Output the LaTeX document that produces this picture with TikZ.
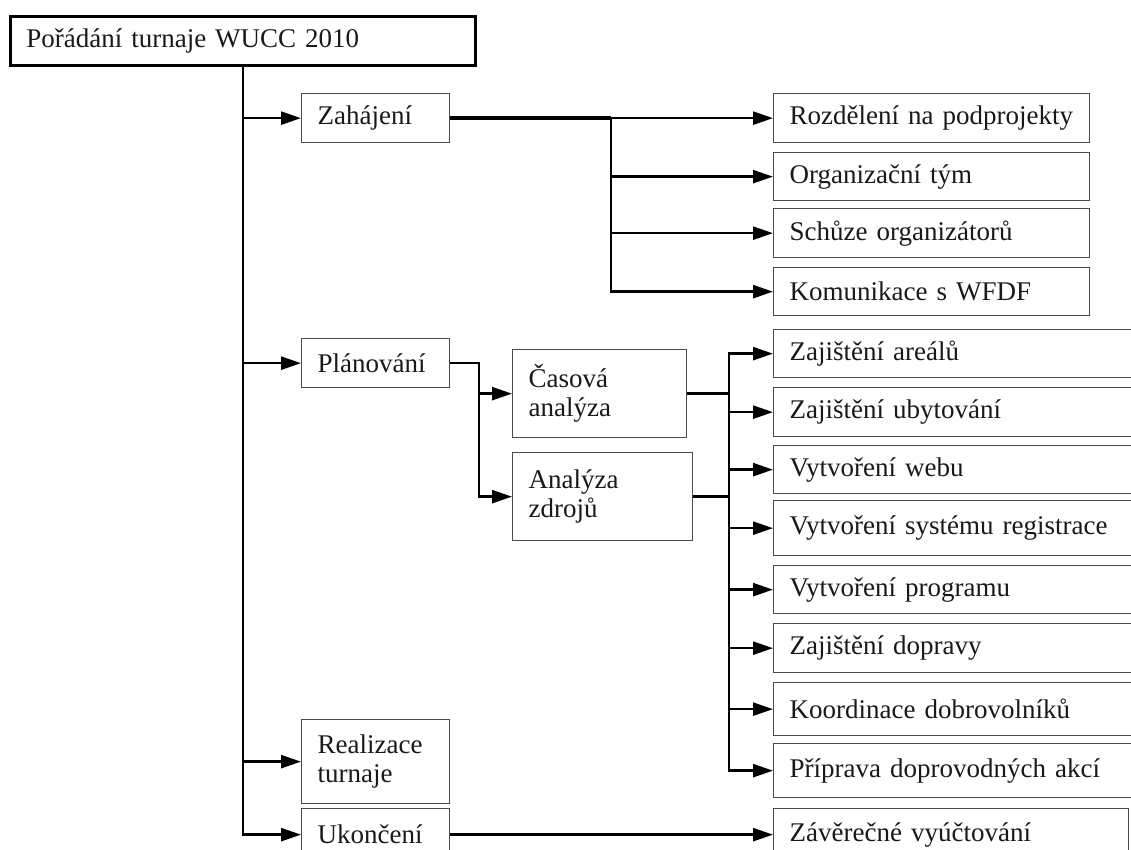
\documentclass[tikz,border=0pt]{standalone}
\usepackage{fontspec}
\setmainfont{Liberation Serif}
\usetikzlibrary{arrows.meta}
\newcommand{\boxfont}{\fontsize{27}{29}\selectfont}
\tikzset{
  box/.style={draw=black!70, line width=1.3pt, anchor=north west, align=left,
    inner xsep=16pt, inner ysep=0pt, minimum height=49pt, text=black!90, font=\boxfont},
  lbox/.style={box, text width=116pt},
  rbox/.style={box, text width=284pt},
  pbox/.style={box, text width=338pt},
  link/.style={line width=2.5pt, -{Triangle[length=20pt,width=13pt]}},
  line/.style={line width=2.5pt}
}

\begin{document}
\begin{tikzpicture}[x=1pt,y=-1pt]
        \useasboundingbox (0,0) rectangle (1131,850);

        % Racine
        \node[box, draw=black, line width=2.6pt, text width=433pt] (root) at (9,15) {Pořádání turnaje WUCC 2010};

        % Phases
        \node[lbox] (zah) at (301,93) {Zahájení};
        \node[lbox] (pla) at (301,338) {Plánování};
        \node[lbox, minimum height=84pt] (rea) at (301,719) {Realizace\\turnaje};
        \node[lbox, minimum height=52pt] (uko) at (301,808) {Ukončení};

        % Analyses
        \node[box, text width=142pt, minimum height=88pt] (cas) at (512,349) {Časová\\analýza};
        \node[box, text width=148pt, minimum height=88pt] (ana) at (512,452) {Analýza\\zdrojů};

        % Zahájení
        \node[rbox] (roz) at (773,93) {Rozdělení na podprojekty};
        \node[rbox, minimum height=48pt] (org) at (773,152) {Organizační tým};
        \node[rbox] (sch) at (773,208) {Schůze organizátorů};
        \node[rbox, minimum height=48pt] (kom) at (773,267) {Komunikace s WFDF};

        % Plánování
        \node[pbox, minimum height=48pt] (are) at (773,329) {Zajištění areálů};
        \node[pbox] (uby) at (773,387) {Zajištění ubytování};
        \node[pbox, minimum height=48pt] (web) at (773,445) {Vytvoření webu};
        \node[pbox, minimum height=55pt] (sys) at (773,500) {Vytvoření systému registrace};
        \node[pbox, minimum height=48pt] (prg) at (773,565) {Vytvoření programu};
        \node[pbox] (dop) at (773,623) {Zajištění dopravy};
        \node[pbox, minimum height=53pt] (kod) at (773,682) {Koordinace dobrovolníků};
        \node[pbox, minimum height=54pt] (pri) at (773,743) {Příprava doprovodných akcí};

        % Ukončení
        \node[box, text width=323pt, minimum height=52pt] (zav) at (773,808) {Závěrečné vyúčtování};

        % Tronc
        \draw[link] (root.south) |- (zah.west);
        \draw[link] (root.south) |- (pla.west);
        \draw[link] (root.south) |- (rea.west);
        \draw[link] (root.south) |- (uko.west);

        % Branches
        \coordinate (zfork) at (611,0);
        \coordinate (pfork) at (479,0);
        \coordinate (afork) at (729,0);
        \draw[line, line width=3.5pt] (zah.east) -- (zah.east -| zfork);
        \foreach \n in {roz,org,sch,kom}
          \draw[link] (zah.east -| zfork) |- (\n.west);
        \draw[link] (pla.east) -- (pla.east -| pfork) |- (cas.west);
        \draw[link] (pla.east) -- (pla.east -| pfork) |- (ana.west);
        \draw[line] (cas.east) -- (cas.east -| afork);
        \draw[line] (ana.east) -- (ana.east -| afork);
        \foreach \n in {are,uby,web,sys,prg,dop,kod,pri}
          \draw[link] (cas.east -| afork) |- (\n.west);
        \draw[link] (uko.east) -- (zav.west);
    \end{tikzpicture}
\end{document}
